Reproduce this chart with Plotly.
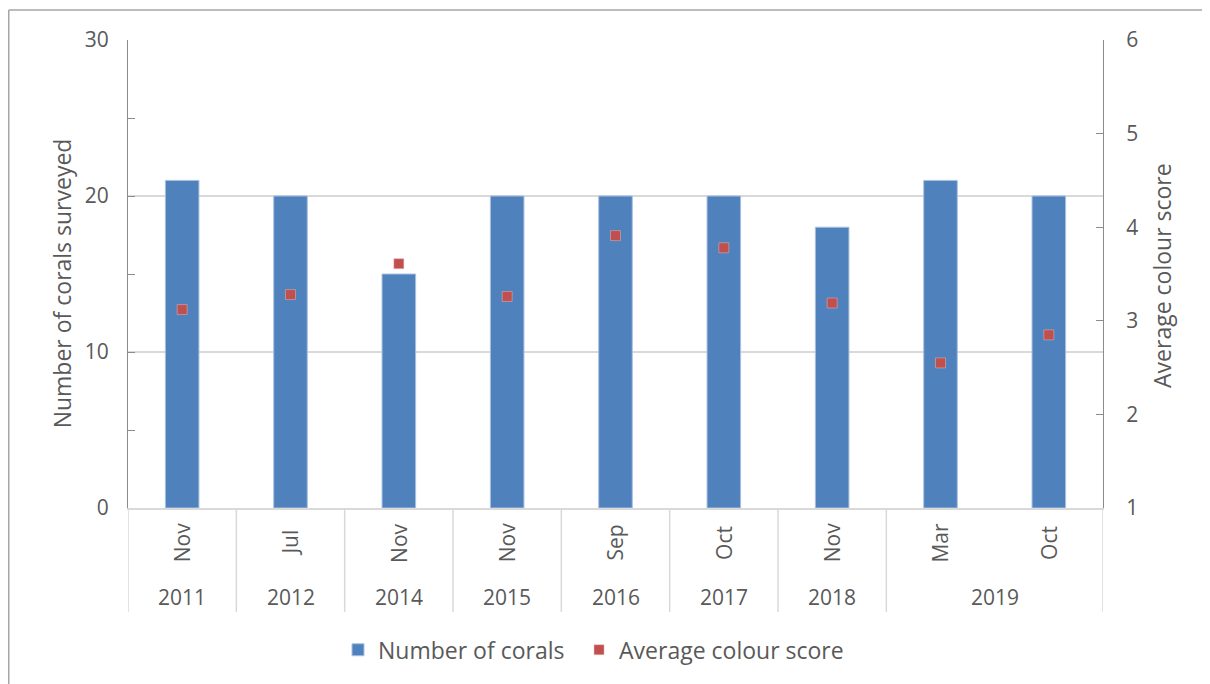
import plotly.graph_objects as go

months = ["Nov", "Jul", "Nov", "Nov", "Sep", "Oct", "Nov", "Mar", "Oct"]
years = ["2011", "2012", "2014", "2015", "2016", "2017", "2018", "2019", "2019"]
num_corals = [21, 20, 15, 20, 20, 20, 18, 21, 20]
colour_score = [3.12, 3.28, 3.61, 3.26, 3.91, 3.78, 3.19, 2.55, 2.85]

FONT = "Open Sans"
TXT = "#595959"
GRID = "#D9D9D9"
AX = "#8C8C8C"
LBL = 21

xpos = list(range(len(months)))

fig = go.Figure()
fig.add_trace(go.Bar(
    x=xpos, y=num_corals, name="Number of corals", width=0.31, legend="legend",
    marker=dict(color="#4F81BD", line=dict(color="#A9C1DF", width=1)),
))
fig.add_trace(go.Scatter(
    x=xpos, y=colour_score, name="Average colour score", mode="markers",
    yaxis="y2", legend="legend2",
    marker=dict(symbol="square", size=10, color="#C0504D",
                line=dict(color="#E6B9B8", width=0.5)),
))

ann = []
for i, m in enumerate(months):
    ann.append(dict(x=i, y=-0.075, xref="x", yref="paper", text=m, textangle=-90,
                    showarrow=False, font=dict(family=FONT, size=LBL, color=TXT),
                    xanchor="center", yanchor="middle"))
groups = []
for i, y in enumerate(years):
    if groups and groups[-1][0] == y:
        groups[-1][2] = i
    else:
        groups.append([y, i, i])
for y, a, b in groups:
    ann.append(dict(x=(a + b) / 2, y=-0.19, xref="x", yref="paper", text=y,
                    showarrow=False, font=dict(family=FONT, size=LBL, color=TXT),
                    xanchor="center", yanchor="middle"))
ann.append(dict(x=-0.0677, y=0.48, xref="paper", yref="paper",
                text="Number of corals surveyed", textangle=-90, showarrow=False,
                font=dict(family=FONT, size=23, color=TXT),
                xanchor="center", yanchor="middle"))
ann.append(dict(x=1.0605, y=0.498, xref="paper", yref="paper",
                text="Average colour score", textangle=-90, showarrow=False,
                font=dict(family=FONT, size=23, color=TXT),
                xanchor="center", yanchor="middle"))

shapes = []
bounds = [-0.5]
for (y, a, b) in groups:
    bounds.append(b + 0.5)
for xb in bounds:
    shapes.append(dict(type="line", xref="x", yref="paper", x0=xb, x1=xb,
                       y0=0, y1=-0.222, line=dict(color=GRID, width=1.5)))
# chart border (partially cropped)
shapes.append(dict(type="line", xref="paper", yref="paper", x0=-0.1223, x1=-0.1223,
                   y0=1.0641, y1=-0.5, line=dict(color="#A6A6A6", width=1.5)))
shapes.append(dict(type="line", xref="paper", yref="paper", x0=-0.1223, x1=1.2,
                   y0=1.0641, y1=1.0641, line=dict(color="#A6A6A6", width=1.5)))

leg_common = dict(orientation="h", y=-0.303, yanchor="middle", xanchor="left",
                  font=dict(family=FONT, size=23, color=TXT), itemwidth=30,
                  bgcolor="rgba(0,0,0,0)")

fig.update_layout(
    width=1202, height=676,
    margin=dict(l=120, r=107, t=32, b=176),
    paper_bgcolor="white", plot_bgcolor="white",
    font=dict(family=FONT, size=LBL, color=TXT),
    showlegend=True,
    legend=dict(x=0.2154, **leg_common),
    legend2=dict(x=0.4626, **leg_common),
    xaxis=dict(range=[-0.5, 8.5], showticklabels=False, ticks="", showgrid=False,
               showline=True, linecolor=GRID, linewidth=1.5, zeroline=False, fixedrange=True),
    yaxis=dict(range=[0, 30], dtick=10, tick0=0, showgrid=True, gridcolor=GRID, gridwidth=1.5,
               showline=True, linecolor=AX, linewidth=1, ticks="inside", ticklen=7,
               tickcolor=AX, zeroline=False, ticklabelstandoff=14,
               minor=dict(dtick=5, ticks="inside", ticklen=7, tickcolor=AX, showgrid=False),
               tickfont=dict(family=FONT, size=LBL, color=TXT)),
    yaxis2=dict(range=[1, 6], dtick=1, overlaying="y", side="right", showgrid=False,
                showline=True, linecolor=AX, linewidth=1, ticks="inside", ticklen=7,
                tickcolor=AX, zeroline=False, ticklabelstandoff=18,
                tickfont=dict(family=FONT, size=LBL, color=TXT)),
    annotations=ann, shapes=shapes,
)

fig.write_html("out.html")
